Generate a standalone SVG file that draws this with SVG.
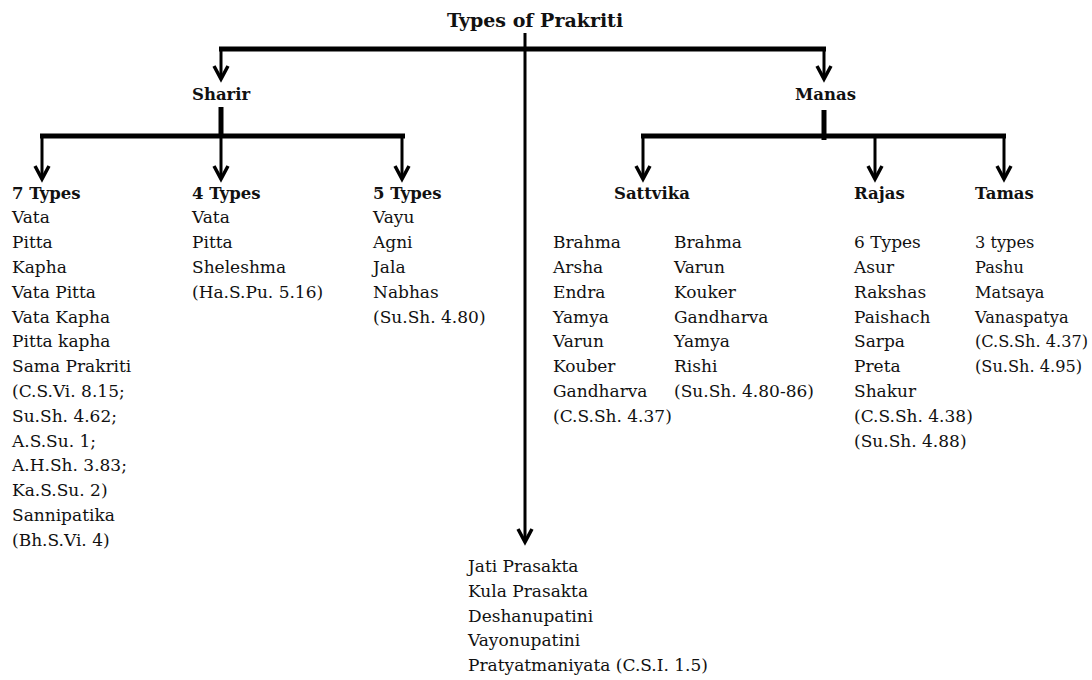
<svg xmlns="http://www.w3.org/2000/svg" width="1092" height="680" viewBox="0 0 1092 680">
<defs>
<style>
text{font-family:"DejaVu Serif","Liberation Serif",serif;font-size:17px;fill:#111;}
.h{font-weight:bold;font-size:16.5px;}
.t{font-weight:bold;font-size:19px;}
.n{font-size:16.2px;}
.bar{stroke:#000;stroke-width:5;fill:none;}
.shaft{stroke:#000;stroke-width:3;fill:none;}
.head{stroke:#000;stroke-width:3.5;fill:none;stroke-linejoin:miter;}
</style>
</defs>
<rect width="1092" height="680" fill="#fff"/>
<g id="connectors">
<line class="shaft" x1="525" y1="33" x2="525" y2="541"/>
<polyline class="head" points="518,529 525,542 532,529"/>
<line class="bar" x1="219" y1="49" x2="826" y2="49"/>
<line class="shaft" x1="221" y1="49" x2="221" y2="78"/>
<polyline class="head" points="214,66 221,79 228,66"/>
<line class="shaft" x1="824" y1="49" x2="824" y2="78"/>
<polyline class="head" points="817,66 824,79 831,66"/>
<line class="bar" x1="221" y1="107" x2="221" y2="138"/>
<line class="bar" x1="40" y1="136" x2="405" y2="136"/>
<line class="shaft" x1="42" y1="136" x2="42" y2="178"/>
<polyline class="head" points="35,166 42,179 49,166"/>
<line class="shaft" x1="221" y1="136" x2="221" y2="178"/>
<polyline class="head" points="214,166 221,179 228,166"/>
<line class="shaft" x1="402" y1="136" x2="402" y2="178"/>
<polyline class="head" points="395,166 402,179 409,166"/>
<line class="bar" x1="824" y1="110" x2="824" y2="140"/>
<line class="bar" x1="641" y1="136" x2="1006" y2="136"/>
<line class="shaft" x1="643" y1="136" x2="643" y2="178"/>
<polyline class="head" points="636,166 643,179 650,166"/>
<line class="shaft" x1="875" y1="136" x2="875" y2="178"/>
<polyline class="head" points="868,166 875,179 882,166"/>
<line class="shaft" x1="1004" y1="136" x2="1004" y2="178"/>
<polyline class="head" points="997,166 1004,179 1011,166"/>
</g>
<g id="root"><text class="t" x="535" y="27" text-anchor="middle">Types of Prakriti</text></g>
<g id="sharir"><text class="h" x="192" y="100">Sharir</text></g>
<g id="manas"><text class="h" x="795" y="100">Manas</text></g>
<g id="seven-types">
<text class="h" x="12" y="198.5">7 Types</text>
<text x="12" y="223.3">Vata</text>
<text x="12" y="248.1">Pitta</text>
<text x="12" y="272.9">Kapha</text>
<text x="12" y="297.7">Vata Pitta</text>
<text x="12" y="322.5">Vata Kapha</text>
<text x="12" y="347.3">Pitta kapha</text>
<text x="12" y="372.1">Sama Prakriti</text>
<text x="12" y="396.9">(C.S.Vi. 8.15;</text>
<text x="12" y="421.7">Su.Sh. 4.62;</text>
<text x="12" y="446.5">A.S.Su. 1;</text>
<text x="12" y="471.3">A.H.Sh. 3.83;</text>
<text x="12" y="496.1">Ka.S.Su. 2)</text>
<text x="12" y="520.9">Sannipatika</text>
<text x="12" y="545.7">(Bh.S.Vi. 4)</text>
</g>
<g id="four-types">
<text class="h" x="192" y="198.5">4 Types</text>
<text x="192" y="223.3">Vata</text>
<text x="192" y="248.1">Pitta</text>
<text x="192" y="272.9">Sheleshma</text>
<text x="192" y="297.7">(Ha.S.Pu. 5.16)</text>
</g>
<g id="five-types">
<text class="h" x="373" y="198.5">5 Types</text>
<text x="373" y="223.3">Vayu</text>
<text x="373" y="248.1">Agni</text>
<text x="373" y="272.9">Jala</text>
<text x="373" y="297.7">Nabhas</text>
<text x="373" y="322.5">(Su.Sh. 4.80)</text>
</g>
<g id="sattvika">
<text class="h" x="614" y="198.5">Sattvika</text>
<text x="553" y="248.1">Brahma</text>
<text x="553" y="272.9">Arsha</text>
<text x="553" y="297.7">Endra</text>
<text x="553" y="322.5">Yamya</text>
<text x="553" y="347.3">Varun</text>
<text x="553" y="372.1">Kouber</text>
<text x="553" y="396.9">Gandharva</text>
<text x="553" y="421.7">(C.S.Sh. 4.37)</text>
<text x="674" y="248.1">Brahma</text>
<text x="674" y="272.9">Varun</text>
<text x="674" y="297.7">Kouker</text>
<text x="674" y="322.5">Gandharva</text>
<text x="674" y="347.3">Yamya</text>
<text x="674" y="372.1">Rishi</text>
<text x="674" y="396.9">(Su.Sh. 4.80-86)</text>
</g>
<g id="rajas">
<text class="h" x="854" y="198.5">Rajas</text>
<text x="854" y="248.1">6 Types</text>
<text x="854" y="272.9">Asur</text>
<text x="854" y="297.7">Rakshas</text>
<text x="854" y="322.5">Paishach</text>
<text x="854" y="347.3">Sarpa</text>
<text x="854" y="372.1">Preta</text>
<text x="854" y="396.9">Shakur</text>
<text x="854" y="421.7">(C.S.Sh. 4.38)</text>
<text x="854" y="446.5">(Su.Sh. 4.88)</text>
</g>
<g id="tamas">
<text class="h" x="975" y="198.5">Tamas</text>
<text class="n" x="975" y="248.1">3 types</text>
<text class="n" x="975" y="272.9">Pashu</text>
<text class="n" x="975" y="297.7">Matsaya</text>
<text class="n" x="975" y="322.5">Vanaspatya</text>
<text class="n" x="975" y="347.3">(C.S.Sh. 4.37)</text>
<text class="n" x="975" y="372.1">(Su.Sh. 4.95)</text>
</g>
<g id="other">
<text x="468" y="572">Jati Prasakta</text>
<text x="468" y="596.8">Kula Prasakta</text>
<text x="468" y="621.6">Deshanupatini</text>
<text x="468" y="646.4">Vayonupatini</text>
<text x="468" y="671.2">Pratyatmaniyata (C.S.I. 1.5)</text>
</g>
</svg>
